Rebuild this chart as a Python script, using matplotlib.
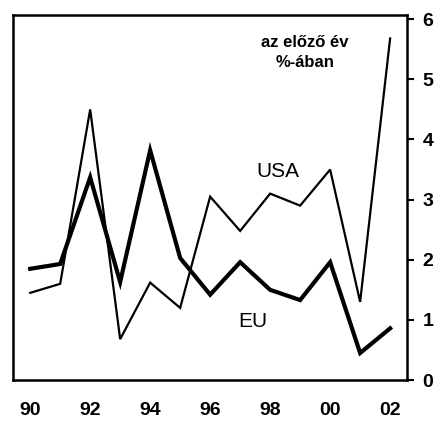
import matplotlib.pyplot as plt

# adatok (az előző év %-ában)
years = list(range(1990, 2003))
year_labels = ["90", "92", "94", "96", "98", "00", "02"]
usa = [1.45, 1.6, 4.5, 0.68, 1.62, 1.2, 3.05, 2.48, 3.1, 2.9, 3.5, 1.3, 5.68]
eu = [1.85, 1.93, 3.37, 1.63, 3.82, 2.03, 1.42, 1.96, 1.5, 1.33, 1.96, 0.45, 0.86]

fig = plt.figure(figsize=(4.36, 4.28), dpi=100)
ax = fig.add_axes([0.030, 0.112, 0.904, 0.853])

ax.plot(years, usa, color="black", linewidth=1.6, solid_joinstyle="miter")
ax.plot(years, eu, color="black", linewidth=3.0, solid_joinstyle="miter")

ax.set_xlim(1989.43, 2002.57)
ax.set_ylim(0, 6.07)

# tengelyek
for s in ax.spines.values():
    s.set_linewidth(1.8)
ax.yaxis.tick_right()
ax.set_yticks(range(0, 7))
ax.tick_params(axis="y", direction="out", length=5, width=1.5, pad=6,
               labelsize=14)
ax.set_xticks(years[::2])
ax.set_xticklabels(year_labels)
ax.tick_params(axis="x", length=0, pad=16, labelsize=14)
for lab in ax.get_xticklabels() + ax.get_yticklabels():
    lab.set_fontweight("bold")
    lab.set_family("Liberation Sans")

# feliratok
ax.text(1998.27, 3.47, "USA", fontsize=15, family="Liberation Sans",
        ha="center", va="center")
ax.text(1997.43, 0.98, "EU", fontsize=15, family="Liberation Sans",
        ha="center", va="center")
ax.text(1999.17, 5.45, "az előző év\n%-ában", fontsize=12, fontweight="bold",
        family="Liberation Sans", ha="center", va="center", linespacing=1.45)

fig.savefig("out.png", dpi=100)
